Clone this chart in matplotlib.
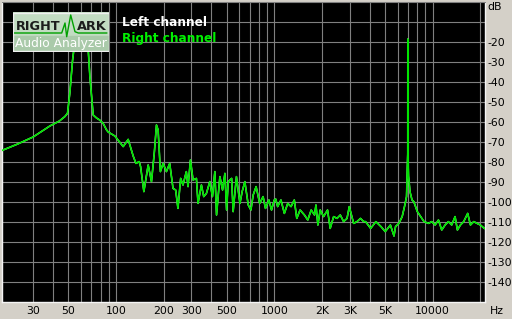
import matplotlib
matplotlib.use("Agg")
import matplotlib.pyplot as plt
from matplotlib.patches import Rectangle

# Spectrum (Hz, dB)
freq_hz = [
    19, 24, 30, 38.3, 44, 47.6, 49.5, 51.2, 53.3, 56, 60, 64, 66.9, 68.5, 71.9,
    75.5, 79, 83.1, 87.4, 89.4, 98.5, 111.2, 119.6, 128.6, 133.8, 140.4, 143.2,
    150.2, 159.9, 167.8, 175, 180.4, 184.8, 191, 198.7, 208.5, 218.7, 229.5,
    238.5, 246.5, 256.4, 265.3, 278.5, 285.4, 295.6, 307, 322.5, 330, 346.8,
    358.6, 373, 391.6, 407, 421.5, 432, 453.5, 471.5, 487.8, 500, 512, 538, 550,
    577, 607, 627, 652, 685, 712, 736, 768, 809, 850, 880, 925, 961, 1000, 1021,
    1050, 1102, 1158, 1216, 1276, 1338, 1387, 1455, 1550, 1628, 1710, 1795,
    1833, 1885, 1950, 2048, 2169, 2255, 2370, 2490, 2610, 2740, 2880, 2975,
    3170, 3330, 3500, 3670, 3770, 4060, 4380, 4718, 5020, 5410, 5700, 5830,
    6120, 6420, 6640, 6840, 6880, 6930, 6960, 6970, 6978, 6995, 7040, 7200,
    7410, 7600, 8000, 8400, 8820, 9410, 9870, 10360, 10880, 11410, 11980,
    12570, 13190, 13850, 14330, 14970, 15700, 16640, 17320, 18170, 19070,
    20000, 21200,
]
right_db = [
    -74.3, -71, -67.5, -62, -59.5, -57.3, -55.7, -45.5, -29, -15, -6, -14, -24,
    -37, -56.5, -58, -59, -60.7, -64, -65, -67, -72.3, -68.7, -77, -80.7, -79.8,
    -82.3, -94.8, -81.5, -89.8, -75, -61.5, -64, -84.8, -80.7, -84.8, -80.7,
    -93.2, -94, -103.2, -88.2, -91.5, -84.8, -92.3, -79, -89, -88.2, -100.7,
    -91.5, -97.3, -95.7, -89.8, -97.3, -84.8, -106.5, -87.3, -94, -85.7, -104,
    -89.8, -88.2, -104.8, -87.3, -100.7, -94.8, -89.8, -101.5, -104, -96.5,
    -92.3, -100.7, -97.3, -103.2, -99, -104, -99, -98.5, -102.3, -99, -105.7,
    -100.7, -102.3, -99, -108.2, -104, -106.5, -109, -104, -106.5, -101.5,
    -111.5, -104, -107.3, -104, -113.2, -107.3, -108.2, -106.5, -109.8, -108.2,
    -102.3, -110.7, -109.8, -108.2, -109.8, -109.8, -113.2, -109.8, -112.3,
    -114.8, -111.5, -117, -112.3, -110.7, -107.3, -102.3, -97.3, -90, -80,
    -75.5, -18.5, -75.5, -79, -87, -95, -99, -99.8, -104.8, -107.3, -109.8,
    -110.7, -109.8, -111.5, -109, -114, -111.5, -109.8, -111.5, -107.3, -114,
    -111.5, -109.8, -105.7, -111.5, -109.8, -110.7, -111.5, -113.2,
]
# left channel sits under the right one in the picture
left_db = list(right_db)

x_tick_pos = [30, 50, 100, 200, 300, 500, 1000, 2000, 3000, 5000, 10000]
x_tick_labels = ["30", "50", "100", "200", "300", "500", "1000", "2K", "3K", "5K", "10000"]
x_grid = [40, 60, 70, 80, 90, 400, 600, 700, 800, 900,
          4000, 6000, 7000, 8000, 9000, 20000]
y_ticks = list(range(-140, 0, 10))

W, H = 512, 319
BG = "#d4d0c8"
GRID = "#808080"


def px(x, y):
    """pixel position -> figure fraction"""
    return x / W, 1 - y / H


fig = plt.figure(figsize=(W / 100, H / 100), dpi=100, facecolor=BG)
ax = fig.add_axes([2 / W, 17 / H, 483 / W, 300 / H], facecolor="black")
ax.set_xscale("log")
ax.set_xlim(19.1, 21400)
ax.set_ylim(-150, 0)

ax.set_xticks(x_tick_pos)
ax.set_xticklabels(x_tick_labels)
ax.set_xticks(x_grid, minor=True)
ax.xaxis.set_minor_formatter(plt.NullFormatter())
ax.set_yticks(y_ticks)
ax.set_yticklabels(["" if v == -10 else str(v) for v in y_ticks])
ax.yaxis.tick_right()
ax.tick_params(axis="both", which="both", length=0, labelsize=7.8, colors="black")
ax.tick_params(axis="x", pad=3)
ax.tick_params(axis="y", pad=2)
for lbl in ax.get_yticklabels():
    lbl.set_horizontalalignment("left")
ax.grid(True, which="both", color=GRID, lw=0.8)
ax.set_axisbelow(True)

ax.plot(freq_hz, left_db, color="white", lw=1.0, zorder=3)
ax.plot(freq_hz, right_db, color="#00e600", lw=1.2, zorder=4)

for side in ("left", "bottom", "right"):
    ax.spines[side].set_color("#f4f4f4")
    ax.spines[side].set_linewidth(1)
ax.spines["top"].set_color(GRID)

fig.text(*px(487, 7), "dB", fontsize=7.8, va="center", ha="left")
fig.text(*px(490, 311), "Hz", fontsize=7.8, va="center", ha="left")

# legend text
fig.text(*px(122, 22.7), "Left channel", color="white", fontsize=8.7,
         fontweight="bold", va="center", ha="left")
fig.text(*px(122, 38.3), "Right channel", color="#00f000", fontsize=8.7,
         fontweight="bold", va="center", ha="left")

# RightMark logo box
lg = fig.add_axes([12.7 / W, 1 - 51.7 / H, 96.3 / W, 39.4 / H], zorder=10)
lg.set_xlim(0, 96.3)
lg.set_ylim(39.4, 0)
lg.axis("off")
lg.add_patch(Rectangle((0, 0), 96.3, 24, color="#c2dcc2"))
lg.add_patch(Rectangle((0, 24), 96.3, 15.4, color="#aacaaa"))
lg.add_patch(Rectangle((0.3, 0.3), 95.7, 38.8, fill=False, ec="#f0f0f0", lw=1))
lg.plot([2, 49, 52.3, 54, 58, 62.3, 65.6, 94],
        [20.7, 20.7, 10.7, 24.4, 2.7, 19.4, 20.7, 20.7], color="#00a000", lw=1)
lg.text(3.3, 14.7, "RIGHT", fontsize=9.3, fontweight="bold", color="#1c1c1c",
        va="center", ha="left")
lg.text(94.3, 14.7, "ARK", fontsize=9.3, fontweight="bold", color="#1c1c1c",
        va="center", ha="right")
lg.text(48, 30.7, "Audio Analyzer", fontsize=8.8, color="white",
        va="center", ha="center")

fig.savefig("out.png", dpi=100, facecolor=BG)
